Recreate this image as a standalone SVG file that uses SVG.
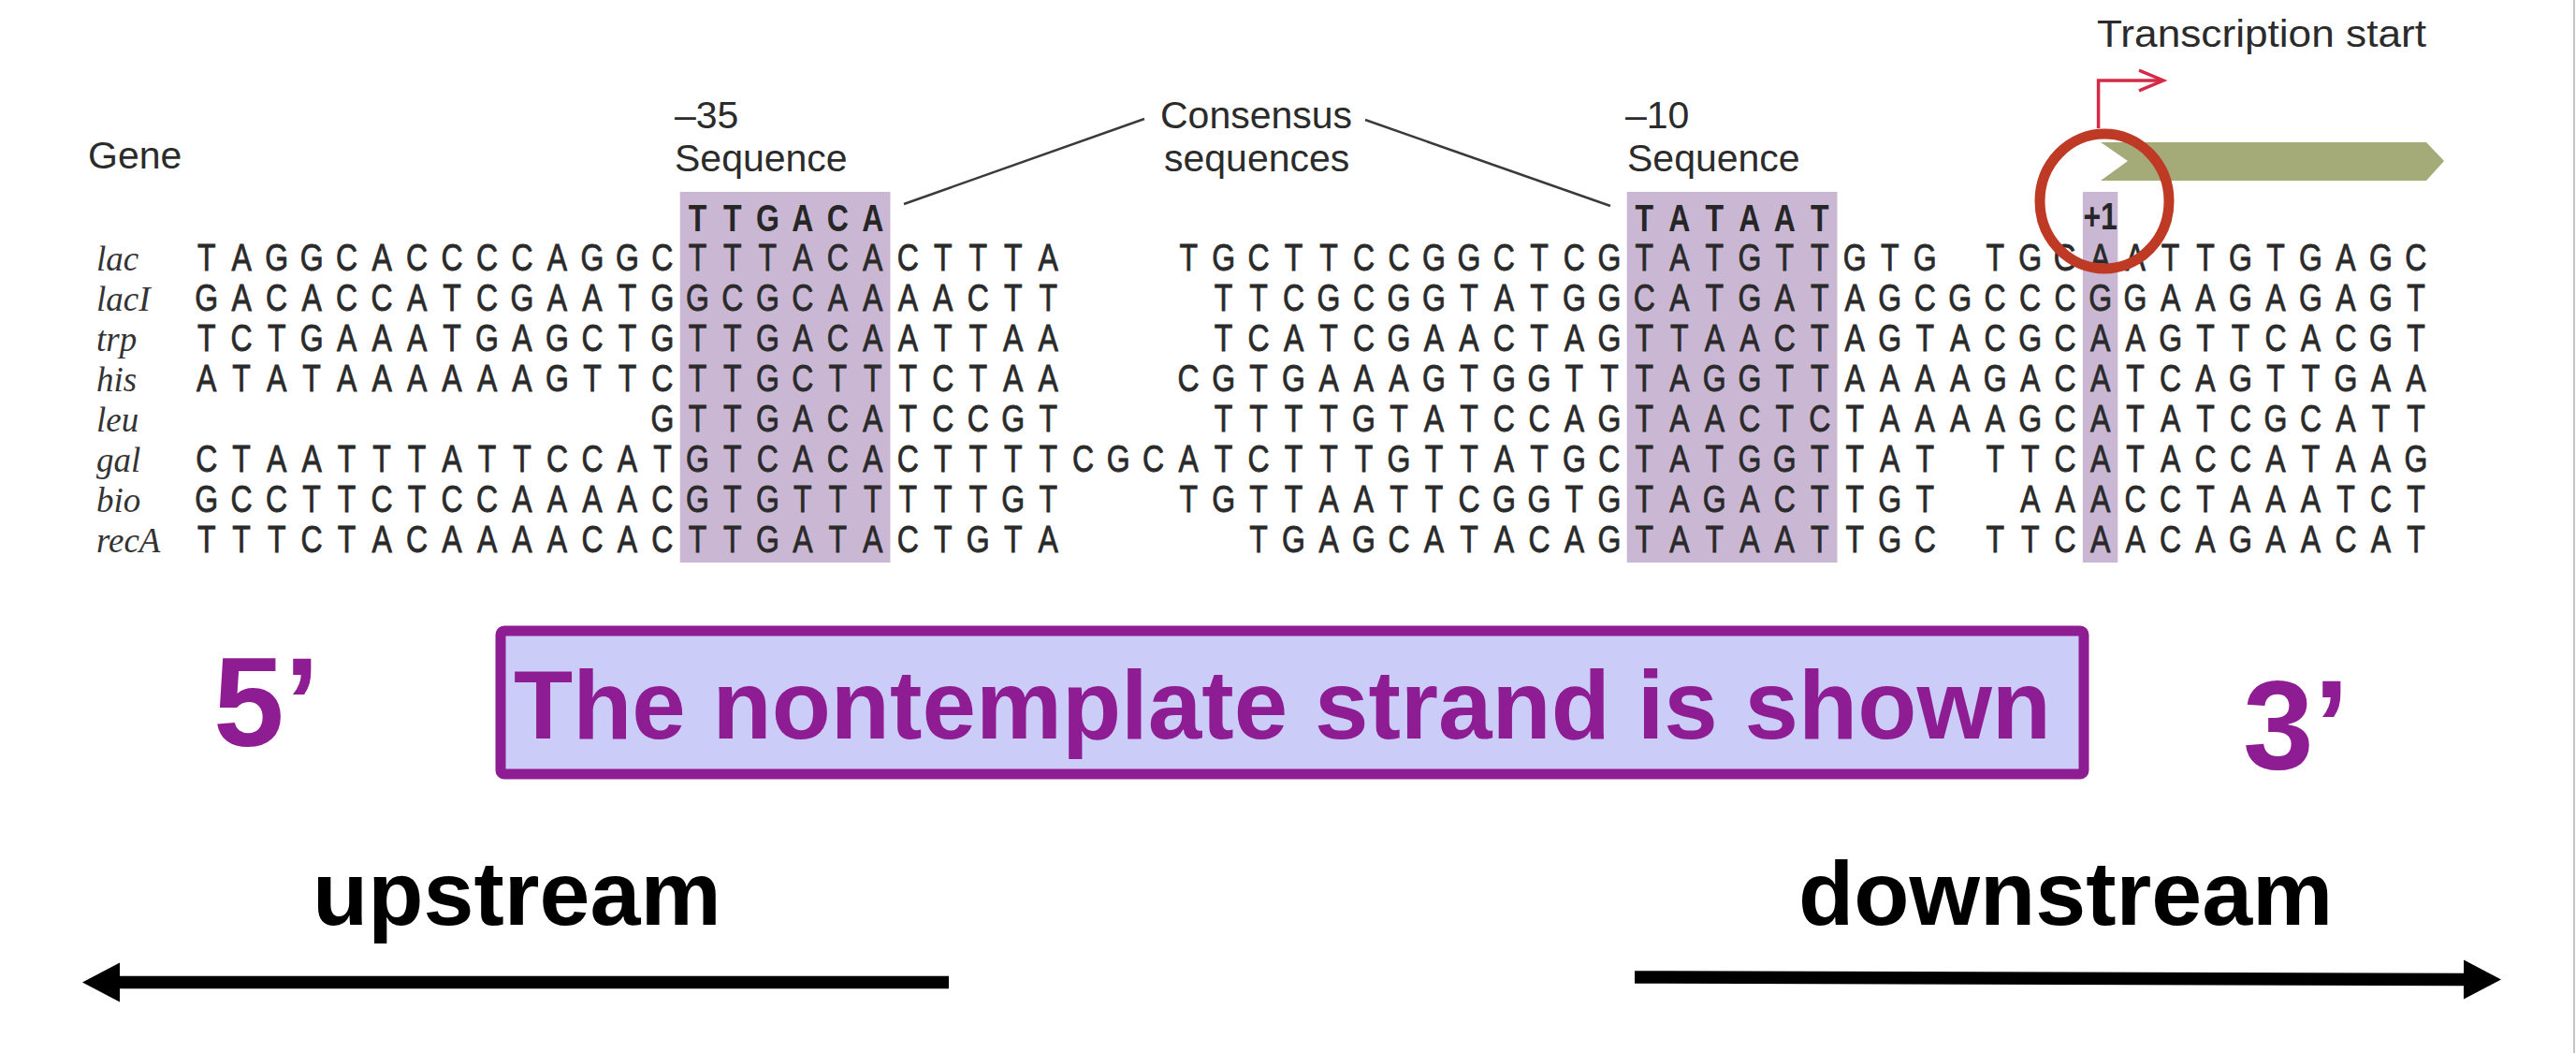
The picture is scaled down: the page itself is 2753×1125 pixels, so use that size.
<svg xmlns="http://www.w3.org/2000/svg" width="2753" height="1125" viewBox="0 0 2753 1125">
<defs>
<style>
.lbl{font-family:"Liberation Sans",Arial,sans-serif;font-size:41px;fill:#2b2b2b}
.seq{font-family:"Liberation Sans",Arial,sans-serif;font-size:40px;fill:#2a2a2a;stroke:#2a2a2a;stroke-width:0.8;text-anchor:middle}
.bold{font-weight:bold;fill:#262626;stroke:none}
.gene{font-family:"Liberation Serif","Times New Roman",serif;font-style:italic;font-size:37px;fill:#333}
.hl{fill:#C9B7D4}
.pur{font-family:"Liberation Sans",Arial,sans-serif;font-weight:bold;fill:#8E1C92}
.blk{font-family:"Liberation Sans",Arial,sans-serif;font-weight:bold;fill:#000;font-size:97px}
.thin{fill:none;stroke:#3a3a3a;stroke-width:2.5}
.red{fill:none;stroke:#D42A45;stroke-width:3.5;stroke-linejoin:miter}
.shaft{stroke:#000;stroke-width:13.5;fill:none}
</style>
<marker id="blackHead" markerUnits="userSpaceOnUse" markerWidth="42" markerHeight="44" refX="0" refY="21" orient="auto" viewBox="0 0 42 42" overflow="visible">
<path d="M0,0 L40,21 L0,42 Z" fill="#000"/>
</marker>
<marker id="redHead" markerUnits="userSpaceOnUse" markerWidth="30" markerHeight="30" refX="26" refY="11" orient="auto" viewBox="0 0 30 22" overflow="visible">
<path d="M0,0 L26,11 L0,22" fill="none" stroke="#D42A45" stroke-width="3.5"/>
</marker>
</defs>
<rect width="2753" height="1125" fill="#fff"/>
<line x1="2751" y1="0" x2="2751" y2="1125" stroke="#c4c4c4" stroke-width="2"/>

<g id="highlights">
<rect class="hl" x="726.7" y="205" width="224.8" height="396"/>
<rect class="hl" x="1738.7" y="205" width="224.8" height="396"/>
<rect class="hl" x="2225.9" y="205" width="37.4" height="396"/>
</g>

<g id="header-labels">
<text class="lbl" x="94" y="180">Gene</text>
<text class="lbl" x="721" y="137">–35</text>
<text class="lbl" x="721" y="183">Sequence</text>
<text class="lbl" x="1240" y="137">Consensus</text>
<text class="lbl" x="1244" y="183">sequences</text>
<text class="lbl" x="1737" y="137">–10</text>
<text class="lbl" x="1739" y="183">Sequence</text>
<text class="lbl" x="2241" y="50" textLength="352" lengthAdjust="spacingAndGlyphs">Transcription start</text>
</g>

<g id="consensus-row" transform="scale(0.8 1)">
<text class="seq bold" y="247" x="931.8 978.6 1025.5 1072.3 1119.2 1166.0">TTGACA</text>
<text class="seq bold" y="247" x="2196.7 2243.6 2290.4 2337.3 2384.1 2431.0">TATAAT</text>
<text class="seq bold" y="245" x="2805.8">+1</text>
</g>

<g id="gene-names">
<text class="gene" x="103" y="289">lac</text>
<text class="gene" x="103" y="332">lacI</text>
<text class="gene" x="103" y="375">trp</text>
<text class="gene" x="103" y="418">his</text>
<text class="gene" x="103" y="461">leu</text>
<text class="gene" x="103" y="504">gal</text>
<text class="gene" x="103" y="547">bio</text>
<text class="gene" x="103" y="590">recA</text>
</g>

<g id="sequences" transform="scale(0.8 1)">
<text id="seq-lac" class="seq" y="289"><tspan x="275.9 322.7 369.6 416.4 463.3 510.1 557.0 603.8 650.7 697.5 744.4 791.2 838.1 884.9 931.8 978.6 1025.5 1072.3 1119.2 1166.0 1212.9 1259.7 1306.6 1353.4 1400.3">TAGGCACCCCAGGCTTTACACTTTA</tspan><tspan x="1587.7 1634.5 1681.4 1728.2 1775.1 1821.9 1868.8 1915.6 1962.5 2009.3 2056.2 2103.0 2149.9 2196.7 2243.6 2290.4 2337.3 2384.1 2431.0 2477.8 2524.7 2571.5">TGCTTCCGGCTCGTATGTTGTG</tspan><tspan x="2665.2 2712.1 2758.9 2805.8 2852.6 2899.5 2946.3 2993.2 3040.0 3086.9 3133.7 3180.6 3227.4">TGGAATTGTGAGC</tspan></text>
<text id="seq-lacI" class="seq" y="332"><tspan x="275.9 322.7 369.6 416.4 463.3 510.1 557.0 603.8 650.7 697.5 744.4 791.2 838.1 884.9 931.8 978.6 1025.5 1072.3 1119.2 1166.0 1212.9 1259.7 1306.6 1353.4 1400.3">GACACCATCGAATGGCGCAAAACTT</tspan><tspan x="1634.5 1681.4 1728.2 1775.1 1821.9 1868.8 1915.6 1962.5 2009.3 2056.2 2103.0 2149.9 2196.7 2243.6 2290.4 2337.3 2384.1 2431.0 2477.8 2524.7 2571.5 2618.4 2665.2 2712.1 2758.9 2805.8 2852.6 2899.5 2946.3 2993.2 3040.0 3086.9 3133.7 3180.6 3227.4">TTCGCGGTATGGCATGATAGCGCCCGGAAGAGAGT</tspan></text>
<text id="seq-trp" class="seq" y="375"><tspan x="275.9 322.7 369.6 416.4 463.3 510.1 557.0 603.8 650.7 697.5 744.4 791.2 838.1 884.9 931.8 978.6 1025.5 1072.3 1119.2 1166.0 1212.9 1259.7 1306.6 1353.4 1400.3">TCTGAAATGAGCTGTTGACAATTAA</tspan><tspan x="1634.5 1681.4 1728.2 1775.1 1821.9 1868.8 1915.6 1962.5 2009.3 2056.2 2103.0 2149.9 2196.7 2243.6 2290.4 2337.3 2384.1 2431.0 2477.8 2524.7 2571.5 2618.4 2665.2 2712.1 2758.9 2805.8 2852.6 2899.5 2946.3 2993.2 3040.0 3086.9 3133.7 3180.6 3227.4">TCATCGAACTAGTTAACTAGTACGCAAGTTCACGT</tspan></text>
<text id="seq-his" class="seq" y="418"><tspan x="275.9 322.7 369.6 416.4 463.3 510.1 557.0 603.8 650.7 697.5 744.4 791.2 838.1 884.9 931.8 978.6 1025.5 1072.3 1119.2 1166.0 1212.9 1259.7 1306.6 1353.4 1400.3">ATATAAAAAAGTTCTTGCTTTCTAA</tspan><tspan x="1587.7 1634.5 1681.4 1728.2 1775.1 1821.9 1868.8 1915.6 1962.5 2009.3 2056.2 2103.0 2149.9 2196.7 2243.6 2290.4 2337.3 2384.1 2431.0 2477.8 2524.7 2571.5 2618.4 2665.2 2712.1 2758.9 2805.8 2852.6 2899.5 2946.3 2993.2 3040.0 3086.9 3133.7 3180.6 3227.4">CGTGAAAGTGGTTTAGGTTAAAAGACATCAGTTGAA</tspan></text>
<text id="seq-leu" class="seq" y="461"><tspan x="884.9 931.8 978.6 1025.5 1072.3 1119.2 1166.0 1212.9 1259.7 1306.6 1353.4 1400.3">GTTGACATCCGT</tspan><tspan x="1634.5 1681.4 1728.2 1775.1 1821.9 1868.8 1915.6 1962.5 2009.3 2056.2 2103.0 2149.9 2196.7 2243.6 2290.4 2337.3 2384.1 2431.0 2477.8 2524.7 2571.5 2618.4 2665.2 2712.1 2758.9 2805.8 2852.6 2899.5 2946.3 2993.2 3040.0 3086.9 3133.7 3180.6 3227.4">TTTTGTATCCAGTAACTCTAAAAGCATATCGCATT</tspan></text>
<text id="seq-gal" class="seq" y="504"><tspan x="275.9 322.7 369.6 416.4 463.3 510.1 557.0 603.8 650.7 697.5 744.4 791.2 838.1 884.9 931.8 978.6 1025.5 1072.3 1119.2 1166.0 1212.9 1259.7 1306.6 1353.4 1400.3 1447.1 1494.0 1540.8 1587.7 1634.5 1681.4 1728.2 1775.1 1821.9 1868.8 1915.6 1962.5 2009.3 2056.2 2103.0 2149.9 2196.7 2243.6 2290.4 2337.3 2384.1 2431.0 2477.8 2524.7 2571.5">CTAATTTATTCCATGTCACACTTTTCGCATCTTTGTTATGCTATGGTTAT</tspan><tspan x="2665.2 2712.1 2758.9 2805.8 2852.6 2899.5 2946.3 2993.2 3040.0 3086.9 3133.7 3180.6 3227.4">TTCATACCATAAG</tspan></text>
<text id="seq-bio" class="seq" y="547"><tspan x="275.9 322.7 369.6 416.4 463.3 510.1 557.0 603.8 650.7 697.5 744.4 791.2 838.1 884.9 931.8 978.6 1025.5 1072.3 1119.2 1166.0 1212.9 1259.7 1306.6 1353.4 1400.3">GCCTTCTCCAAAACGTGTTTTTTGT</tspan><tspan x="1587.7 1634.5 1681.4 1728.2 1775.1 1821.9 1868.8 1915.6 1962.5 2009.3 2056.2 2103.0 2149.9 2196.7 2243.6 2290.4 2337.3 2384.1 2431.0 2477.8 2524.7 2571.5">TGTTAATTCGGTGTAGACTTGT</tspan><tspan x="2712.1 2758.9 2805.8 2852.6 2899.5 2946.3 2993.2 3040.0 3086.9 3133.7 3180.6 3227.4">AAACCTAAATCT</tspan></text>
<text id="seq-recA" class="seq" y="590"><tspan x="275.9 322.7 369.6 416.4 463.3 510.1 557.0 603.8 650.7 697.5 744.4 791.2 838.1 884.9 931.8 978.6 1025.5 1072.3 1119.2 1166.0 1212.9 1259.7 1306.6 1353.4 1400.3">TTTCTACAAAACACTTGATACTGTA</tspan><tspan x="1681.4 1728.2 1775.1 1821.9 1868.8 1915.6 1962.5 2009.3 2056.2 2103.0 2149.9 2196.7 2243.6 2290.4 2337.3 2384.1 2431.0 2477.8 2524.7 2571.5">TGAGCATACAGTATAATTGC</tspan><tspan x="2665.2 2712.1 2758.9 2805.8 2852.6 2899.5 2946.3 2993.2 3040.0 3086.9 3133.7 3180.6 3227.4">TTCAACAGAACAT</tspan></text>
</g>

<g id="gene-arrow">
<polygon points="2245,152 2593,152 2612,172 2593,193 2245,193 2274,172" fill="#A4AA78"/>
</g>

<g id="connectors">
<line class="thin" x1="1223" y1="127" x2="966" y2="218"/>
<line class="thin" x1="1459" y1="128" x2="1721" y2="220"/>
<polyline class="red" points="2242.6,137 2242.6,86 2312,86" marker-end="url(#redHead)"/>
<line class="shaft" x1="1014" y1="1049.5" x2="128" y2="1049.5" marker-end="url(#blackHead)"/>
<line class="shaft" x1="1747" y1="1044" x2="2633" y2="1046.5" marker-end="url(#blackHead)"/>
</g>

<g id="plus1-circle">
<ellipse cx="2249" cy="215" rx="69" ry="72" fill="none" stroke="#BE3A24" stroke-width="11"/>
</g>

<g id="note-box">
<rect x="535" y="674" width="1692" height="153" rx="4" fill="#CCCCF8" stroke="#8E1C92" stroke-width="11"/>
<text class="pur" x="549" y="789" font-size="104" textLength="1643" lengthAdjust="spacingAndGlyphs">The nontemplate strand is shown</text>
</g>

<g id="end-5"><text class="pur" x="228" y="797" font-size="136">5’</text></g>
<g id="end-3"><text class="pur" x="2397" y="821" font-size="136">3’</text></g>

<g id="upstream"><text class="blk" x="334" y="988">upstream</text></g>
<g id="downstream"><text class="blk" x="1922" y="988">downstream</text></g>
</svg>
